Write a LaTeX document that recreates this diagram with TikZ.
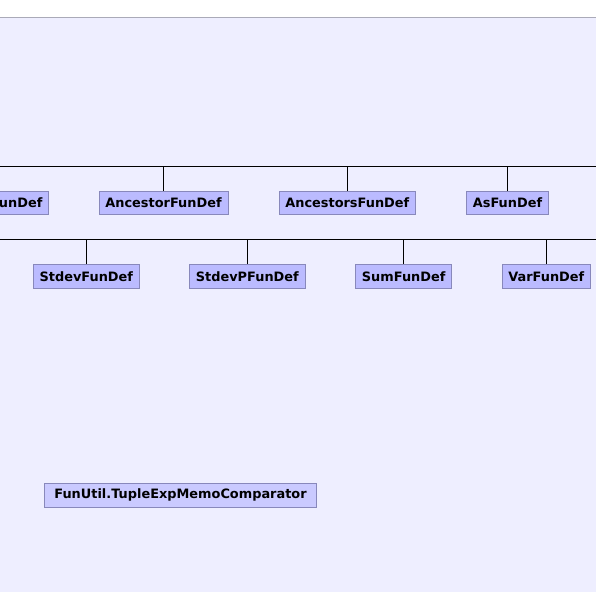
\documentclass[tikz,border=0pt]{standalone}
\usepackage{fontspec}
\setmainfont{DejaVu Sans}
\usepackage{xcolor}
\usepackage{tikz}
\definecolor{panelbg}{RGB}{238,238,255}
\definecolor{classfill}{RGB}{187,187,255}
\definecolor{utilfill}{RGB}{202,202,255}
\definecolor{classdraw}{RGB}{136,136,187}
\definecolor{framegray}{RGB}{170,170,184}
\usetikzlibrary{positioning}

\begin{document}
\begin{tikzpicture}[x=1pt, y=-1pt, every node/.style={font=\fontsize{12.9}{15}\selectfont\bfseries},
  classbox/.style={draw=classdraw, fill=classfill, line width=0.8pt, inner xsep=6.3pt, inner ysep=0pt, minimum height=23pt},
  buswire/.style={black, line width=0.8pt}]
\useasboundingbox (0,0) rectangle (596,592);
\clip (0,0) rectangle (596,592);
% Panel
\fill[panelbg] (0,17.5) rectangle (596,592);
\draw[framegray, line width=1pt] (0,17.5) -- (596,17.5);
% Bus lines
\coordinate (busA) at (0,166.5);
\coordinate (busAend) at (596,166.5);
\coordinate (busB) at (0,239.5);
\coordinate (busBend) at (596,239.5);
\draw[buswire] (busA) -- (busAend);
\draw[buswire] (busB) -- (busBend);
% First row
\node[classbox] (unD) at (20.7,202.8) {unDef};
\foreach \nm/\x/\lbl in {anc/163.5/AncestorFunDef, ancs/347.3/AncestorsFunDef, as/507.5/AsFunDef} {
    \node[classbox] (\nm) at (\x,202.8) {\lbl};
    \draw[buswire] (\nm.north) -- (\nm.north |- busA);
}
% Second row
\foreach \nm/\x/\lbl in {stdev/86.3/StdevFunDef, stdevp/247.3/StdevPFunDef, sum/403.7/SumFunDef, var/546.3/VarFunDef} {
    \node[classbox, minimum height=24.5pt] (\nm) at (\x,276.3) {\lbl};
    \draw[buswire] (\nm.north) -- (\nm.north |- busB);
}
% Comparator
\node[classbox, fill=utilfill, minimum height=24pt, minimum width=272.4pt] (cmp) at (180.5,495.3) {FunUtil.TupleExpMemoComparator};
\end{tikzpicture}
\end{document}
